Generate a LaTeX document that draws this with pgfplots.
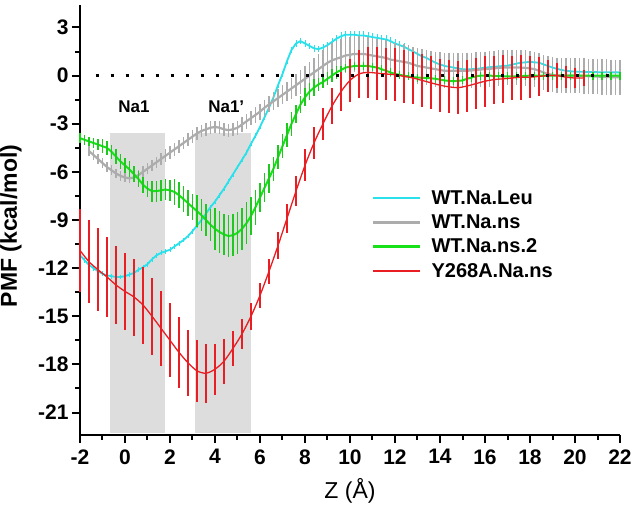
\documentclass[border=0pt]{standalone}
\usepackage{pgfplots}
\pgfplotsset{compat=1.18}
\usepackage{pgfplotstable}
\usepackage{fontspec}
\setmainfont{Liberation Sans}
\definecolor{cyanL}{RGB}{40,225,235}
\definecolor{grayL}{RGB}{172,172,172}
\definecolor{greenL}{RGB}{25,225,25}
\definecolor{greenE}{RGB}{30,200,30}
\definecolor{redL}{RGB}{232,30,35}
\definecolor{shade}{RGB}{221,221,221}

\pgfplotstableread{
x y e
-2.0 -11.2 0.15
-1.8 -11.5 0.15
-1.6 -11.8 0.15
-1.4 -12.0 0.15
-1.2 -12.2 0.15
-1.0 -12.35 0.15
-0.8 -12.45 0.15
-0.6 -12.5 0.15
-0.4 -12.55 0.15
-0.2 -12.55 0.15
0.0 -12.5 0.15
0.2 -12.4 0.15
0.4 -12.3 0.15
0.6 -12.1 0.15
0.8 -11.95 0.15
1.0 -11.75 0.15
1.2 -11.45 0.15
1.4 -11.2 0.15
1.6 -11.05 0.15
1.8 -10.95 0.15
2.0 -10.85 0.15
2.2 -10.65 0.15
2.4 -10.45 0.15
2.6 -10.25 0.15
2.8 -10.0 0.15
3.0 -9.7 0.15
3.2 -9.35 0.15
3.4 -9.0 0.15
3.6 -8.6 0.15
3.8 -8.2 0.15
4.0 -7.85 0.15
4.2 -7.45 0.15
4.4 -7.05 0.15
4.6 -6.6 0.15
4.8 -6.15 0.15
5.0 -5.7 0.15
5.2 -5.25 0.15
5.4 -4.8 0.15
5.6 -4.25 0.15
5.8 -3.75 0.15
6.0 -3.2 0.15
6.2 -2.6 0.15
6.4 -2.0 0.15
6.6 -1.35 0.15
6.8 -0.6 0.15
7.0 0.1 0.2
7.2 0.9 0.2
7.4 1.6 0.2
7.6 2.0 0.2
7.8 2.15 0.2
8.0 2.0 0.2
8.2 1.85 0.2
8.4 1.7 0.2
8.6 1.65 0.2
8.8 1.75 0.2
9.0 1.9 0.2
9.2 2.1 0.25
9.4 2.3 0.25
9.6 2.45 0.25
9.8 2.55 0.25
10.0 2.55 0.25
10.2 2.55 0.25
10.4 2.5 0.25
10.6 2.5 0.25
10.8 2.45 0.25
11.0 2.4 0.25
11.2 2.35 0.25
11.4 2.3 0.25
11.6 2.25 0.25
11.8 2.15 0.25
12.0 2.0 0.25
12.2 1.9 0.25
12.4 1.8 0.25
12.6 1.65 0.25
12.8 1.5 0.25
13.0 1.35 0.25
13.2 1.2 0.25
13.4 1.1 0.25
13.6 0.95 0.25
13.8 0.8 0.25
14.0 0.7 0.25
14.2 0.6 0.25
14.4 0.55 0.25
14.6 0.5 0.25
14.8 0.45 0.25
15.0 0.4 0.25
15.2 0.4 0.25
15.4 0.4 0.25
15.6 0.42 0.25
15.8 0.45 0.25
16.0 0.5 0.25
16.2 0.52 0.25
16.4 0.55 0.25
16.6 0.57 0.25
16.8 0.6 0.25
17.0 0.62 0.25
17.2 0.68 0.25
17.4 0.75 0.25
17.6 0.8 0.25
17.8 0.83 0.25
18.0 0.85 0.25
18.2 0.83 0.25
18.4 0.8 0.25
18.6 0.7 0.25
18.8 0.6 0.25
19.0 0.5 0.25
19.2 0.42 0.25
19.4 0.35 0.25
19.6 0.3 0.25
19.8 0.27 0.25
20.0 0.25 0.25
20.4 0.23 0.25
20.8 0.22 0.25
21.2 0.21 0.25
21.6 0.2 0.25
22.0 0.2 0.25
}\cyantab

\pgfplotstableread{
x y e
-1.6 -4.7 0.3
-1.4 -4.95 0.3
-1.2 -5.2 0.3
-1.0 -5.45 0.3
-0.8 -5.7 0.3
-0.6 -5.9 0.3
-0.4 -6.1 0.3
-0.2 -6.25 0.3
0.0 -6.35 0.3
0.2 -6.4 0.3
0.4 -6.35 0.3
0.6 -6.2 0.3
0.8 -6.0 0.35
1.0 -5.8 0.35
1.2 -5.6 0.35
1.4 -5.4 0.35
1.6 -5.2 0.35
1.8 -5.0 0.4
2.0 -4.8 0.4
2.2 -4.6 0.4
2.4 -4.4 0.4
2.6 -4.2 0.4
2.8 -4.0 0.4
3.0 -3.8 0.4
3.2 -3.6 0.4
3.4 -3.45 0.4
3.6 -3.35 0.4
3.8 -3.25 0.4
4.0 -3.2 0.4
4.2 -3.25 0.4
4.4 -3.35 0.4
4.6 -3.4 0.4
4.8 -3.35 0.4
5.0 -3.25 0.45
5.2 -3.05 0.45
5.4 -2.85 0.45
5.6 -2.65 0.45
5.8 -2.45 0.5
6.0 -2.25 0.5
6.2 -2.0 0.5
6.4 -1.8 0.5
6.6 -1.6 0.55
6.8 -1.4 0.55
7.0 -1.2 0.6
7.2 -1.0 0.6
7.4 -0.8 0.65
7.6 -0.6 0.7
7.8 -0.4 0.75
8.0 -0.2 0.8
8.2 0.0 0.85
8.4 0.2 0.9
8.6 0.4 0.95
8.8 0.6 1.0
9.0 0.8 1.05
9.2 0.95 1.1
9.4 1.05 1.1
9.6 1.15 1.1
9.8 1.25 1.1
10.0 1.3 1.1
10.2 1.35 1.1
10.4 1.35 1.1
10.6 1.35 1.1
10.8 1.3 1.1
11.0 1.25 1.1
11.2 1.2 1.1
11.4 1.15 1.1
11.6 1.1 1.1
11.8 1.0 1.1
12.0 0.95 1.1
12.2 0.9 1.1
12.4 0.85 1.1
12.6 0.8 1.1
12.8 0.7 1.1
13.0 0.6 1.1
13.2 0.55 1.1
13.4 0.5 1.1
13.6 0.45 1.1
13.8 0.4 1.1
14.0 0.35 1.1
14.2 0.3 1.1
14.4 0.3 1.1
14.6 0.3 1.1
14.8 0.3 1.1
15.0 0.3 1.1
15.2 0.3 1.1
15.4 0.32 1.1
15.6 0.35 1.1
15.8 0.38 1.1
16.0 0.4 1.1
16.2 0.42 1.1
16.4 0.45 1.1
16.6 0.48 1.1
16.8 0.5 1.1
17.0 0.5 1.1
17.2 0.5 1.1
17.4 0.5 1.1
17.6 0.5 1.1
17.8 0.48 1.1
18.0 0.45 1.1
18.2 0.4 1.1
18.4 0.3 1.1
18.6 0.2 1.1
18.8 0.1 1.1
19.0 0.05 1.1
19.2 0.0 1.1
19.4 0.0 1.1
19.6 0.0 1.1
19.8 0.0 1.1
20.0 0.0 1.1
20.2 0.0 1.1
20.4 -0.02 1.1
20.6 -0.04 1.1
20.8 -0.05 1.1
21.0 -0.06 1.1
21.2 -0.08 1.1
21.4 -0.09 1.1
21.6 -0.1 1.1
21.8 -0.1 1.1
22.0 -0.1 1.1
}\graytab

\pgfplotstableread{
x y e
-2.0 -3.9 0.3
-1.8 -4.0 0.3
-1.6 -4.1 0.3
-1.4 -4.2 0.3
-1.2 -4.3 0.35
-1.0 -4.4 0.45
-0.8 -4.5 0.45
-0.6 -4.75 0.45
-0.4 -5.05 0.45
-0.2 -5.35 0.45
0.0 -5.6 0.45
0.2 -5.85 0.5
0.4 -6.15 0.5
0.6 -6.45 0.5
0.8 -6.8 0.5
1.0 -7.05 0.5
1.2 -7.2 0.65
1.4 -7.2 0.65
1.6 -7.15 0.65
1.8 -7.1 0.65
2.0 -7.15 0.65
2.2 -7.25 0.8
2.4 -7.45 0.8
2.6 -7.7 0.8
2.8 -7.95 0.8
3.0 -8.2 0.8
3.2 -8.45 1.0
3.4 -8.7 1.0
3.6 -9.0 1.0
3.8 -9.3 1.0
4.0 -9.55 1.3
4.2 -9.75 1.3
4.4 -9.9 1.3
4.6 -10.0 1.3
4.8 -9.95 1.3
5.0 -9.8 1.3
5.2 -9.55 1.3
5.4 -9.2 1.3
5.6 -8.75 1.2
5.8 -8.2 1.1
6.0 -7.6 0.9
6.2 -7.0 0.9
6.4 -6.4 0.9
6.6 -5.8 0.75
6.8 -5.1 0.75
7.0 -4.4 0.75
7.2 -3.7 0.75
7.4 -3.0 0.75
7.6 -2.4 0.55
7.8 -1.8 0.55
8.0 -1.35 0.55
8.2 -1.0 0.55
8.4 -0.75 0.55
8.6 -0.55 0.4
8.8 -0.4 0.4
9.0 -0.2 0.4
9.2 0.0 0.4
9.4 0.2 0.4
9.6 0.35 0.25
9.8 0.5 0.25
10.0 0.55 0.25
10.2 0.6 0.25
10.4 0.6 0.25
10.6 0.6 0.25
10.8 0.6 0.25
11.0 0.55 0.25
11.2 0.5 0.25
11.4 0.4 0.25
11.6 0.3 0.25
11.8 0.2 0.25
12.0 0.1 0.25
12.2 0.05 0.25
12.4 0.0 0.25
12.6 -0.05 0.25
12.8 -0.1 0.25
13.0 -0.12 0.25
13.2 -0.14 0.25
13.4 -0.15 0.25
13.6 -0.17 0.25
13.8 -0.2 0.25
14.0 -0.25 0.25
14.2 -0.3 0.25
14.4 -0.33 0.25
14.6 -0.35 0.25
14.8 -0.33 0.25
15.0 -0.3 0.25
15.2 -0.2 0.25
15.4 -0.12 0.25
15.6 -0.05 0.25
15.8 0.0 0.25
16.0 0.0 0.25
16.2 0.0 0.25
16.4 -0.02 0.25
16.6 -0.03 0.25
16.8 -0.05 0.25
17.0 -0.05 0.25
17.2 -0.05 0.25
17.4 -0.05 0.25
17.6 -0.03 0.25
17.8 -0.02 0.25
18.0 0.0 0.25
18.2 0.0 0.25
18.4 0.0 0.25
18.6 0.0 0.25
18.8 0.0 0.25
19.0 0.0 0.25
19.2 0.0 0.25
19.4 0.0 0.25
19.6 0.0 0.25
19.8 0.0 0.25
20.0 0.0 0.25
20.4 0.0 0.25
20.8 0.0 0.25
21.2 0.0 0.25
21.6 0.0 0.25
22.0 0.0 0.25
}\greentab

\pgfplotstableread{
x y e
-2.0 -10.9 2.6
-1.6 -11.6 2.6
-1.2 -12.1 2.6
-0.8 -12.55 2.5
-0.4 -13.05 2.45
0.0 -13.45 2.4
0.4 -13.8 2.4
0.8 -14.3 2.4
1.2 -15.0 2.4
1.6 -15.75 2.35
2.0 -16.5 2.3
2.4 -17.25 2.2
2.8 -17.9 2.05
3.2 -18.4 1.95
3.6 -18.55 1.85
4.0 -18.3 1.6
4.4 -17.8 1.4
4.8 -17.0 1.1
5.2 -16.1 0.95
5.6 -15.0 0.85
6.0 -13.7 0.8
6.4 -12.2 0.8
6.8 -10.6 0.85
7.2 -8.9 0.9
7.6 -7.2 0.95
8.0 -5.6 1.0
8.4 -4.2 1.0
8.8 -3.0 1.0
9.2 -1.9 1.1
9.6 -1.0 1.2
10.0 -0.3 1.35
10.4 0.1 1.5
10.8 0.2 1.6
11.2 0.15 1.65
11.6 0.1 1.65
12.0 0.05 1.65
12.4 -0.05 1.65
12.8 -0.15 1.65
13.2 -0.3 1.65
13.6 -0.45 1.65
14.0 -0.6 1.65
14.4 -0.7 1.65
14.8 -0.75 1.65
15.2 -0.65 1.65
15.6 -0.5 1.6
16.0 -0.35 1.6
16.4 -0.25 1.5
16.8 -0.2 1.5
17.2 -0.15 1.4
17.6 -0.1 1.4
18.0 -0.1 1.3
18.4 -0.05 1.2
18.8 0.0 1.0
19.2 0.0 0.8
19.6 -0.1 0.7
20.0 -0.15 0.6
20.4 -0.15 0.5
}\redtab

\begin{document}
\begin{tikzpicture}
\begin{axis}[
  scale only axis, width=540pt, height=430pt,
  xmin=-2, xmax=22, ymin=-22.4, ymax=4.4,
  axis x line*=bottom, axis y line*=left,
  axis line style={line width=2pt, -},
  xtick={-2,0,...,22}, minor xtick={-1,1,...,21},
  ytick={-21,-18,...,3}, minor ytick={-19.5,-16.5,-13.5,-10.5,-7.5,-4.5,-1.5,1.5},
  tick align=outside, major tick length=8pt, minor tick length=5pt,
  every tick/.style={line width=2pt, black},
  /pgf/number format/assume math mode=true,
  tick label style={font=\bfseries\fontsize{21}{23}\selectfont},
  xticklabel style={yshift=-3pt},
  xlabel={Z (Å)},
  xlabel style={font=\fontsize{23}{25}\selectfont, at={(axis description cs:0.5,0)}, anchor=center, yshift=-56pt},
  ylabel={PMF (kcal/mol)},
  ylabel style={font=\bfseries\fontsize{23}{26}\selectfont, at={(axis description cs:-0.128,0.486)}, anchor=center},
  legend style={draw=none, fill=none, at={(axis description cs:0.540,0.574)}, anchor=north west,
    font=\bfseries\fontsize{20}{22}\selectfont, row sep=5pt, inner sep=0pt,
    /tikz/every odd column/.append style={column sep=8pt}},
  legend cell align=left,
  legend image code/.code={\draw[#1, line width=2.8pt] (0pt,0pt) -- (47pt,0pt);},
  clip=false,
]
\addplot[fill=shade, draw=none, forget plot] coordinates {(-0.65,-22.3) (1.8,-22.3) (1.8,-3.55) (-0.65,-3.55)} -- cycle;
\addplot[fill=shade, draw=none, forget plot] coordinates {(3.1,-22.3) (5.62,-22.3) (5.62,-3.55) (3.1,-3.55)} -- cycle;

\addplot[cyanL, line width=1.8pt,
  error bars/.cd, y dir=both, y explicit, error mark=none,
  error bar style={line width=0.8pt, cyanL}]
  table[x=x, y=y, y error=e] {\cyantab};
\addlegendentry{WT.Na.Leu}

\addplot[grayL, line width=2.2pt,
  error bars/.cd, y dir=both, y explicit, error mark=none,
  error bar style={line width=1.2pt, grayL}]
  table[x=x, y=y, y error=e] {\graytab};
\addlegendentry{WT.Na.ns}

\addplot[greenL, line width=2pt,
  error bars/.cd, y dir=both, y explicit, error mark=none,
  error bar style={line width=1.4pt, greenE}]
  table[x=x, y=y, y error=e] {\greentab};
\addlegendentry{WT.Na.ns.2}

\addplot[redL, line width=1.3pt, smooth,
  error bars/.cd, y dir=both, y explicit, error mark=none,
  error bar style={line width=1.6pt, redL}]
  table[x=x, y=y, y error=e] {\redtab};
\addlegendentry{Y268A.Na.ns}

\addplot[black, line width=3pt, dash pattern=on 3pt off 12pt, forget plot] coordinates {(-1.3,0) (22,0)};

\node[font=\bfseries\fontsize{17}{18}\selectfont] at (axis cs:0.4,-1.95) {Na1};
\node[font=\bfseries\fontsize{17}{18}\selectfont] at (axis cs:4.5,-1.95) {Na1’};
\end{axis}
\pgfresetboundingbox
\path (-80pt,-71pt) rectangle (553pt,435pt);
\end{tikzpicture}
\end{document}
